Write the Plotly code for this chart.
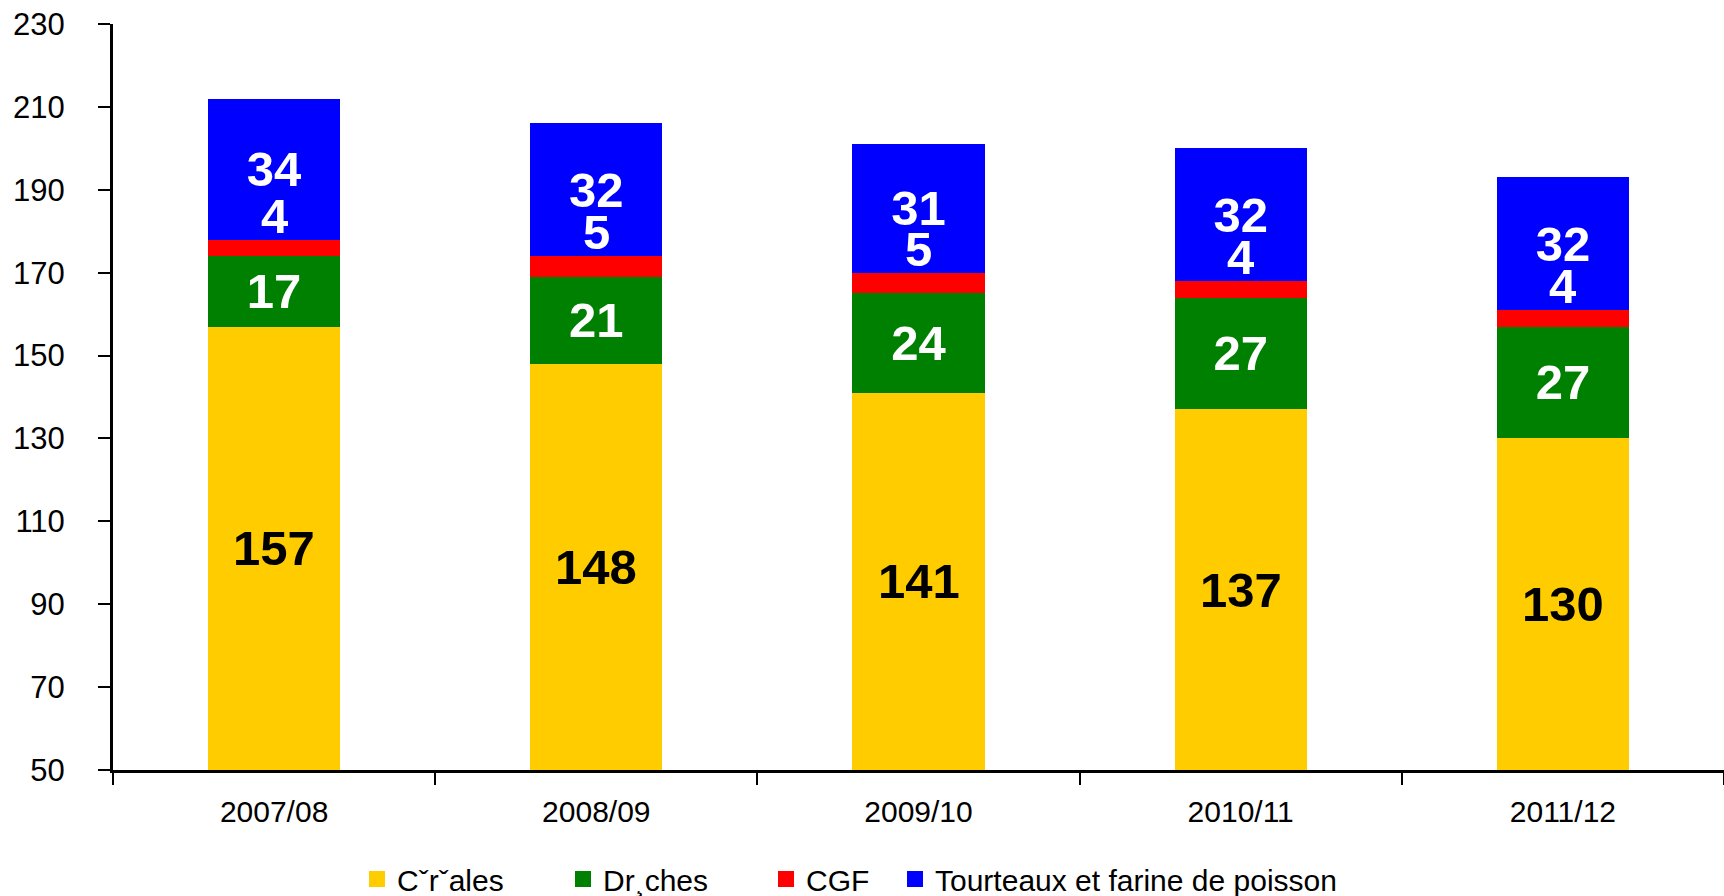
import plotly.graph_objects as go

CAMPAGNES = ["2007/08", "2008/09", "2009/10", "2010/11", "2011/12"]
CEREALES = [157, 148, 141, 137, 130]
DRECHES = [17, 21, 24, 27, 27]
CGF = [4, 5, 5, 4, 4]
TOURTEAUX = [34, 32, 31, 32, 32]

SERIES = [
    ("Cˇrˇales", CEREALES, "#FFCC00"),
    ("Dr¸ches", DRECHES, "#008000"),
    ("CGF", CGF, "#FF0000"),
    ("Tourteaux et farine de poisson", TOURTEAUX, "#0000FF"),
]
# left edge of each legend label, in pixels (Excel spaced them unevenly)
LEGEND_TEXT_X = [402, 608, 811, 940]

FONT = "Arial, Liberation Sans, sans-serif"
Y_MIN, Y_MAX = 50, 230
W, H = 1724, 896
ML, MR, MT, MB = 113, 0, 24, 126
PLOT_W = W - ML - MR
PLOT_H = H - MT - MB
LABEL = dict(family=FONT, size=49, weight="bold")

fig = go.Figure()
for k, (name, vals, color) in enumerate(SERIES):
    with_text = name in ("Dr¸ches", "Tourteaux et farine de poisson")
    fig.add_trace(go.Bar(
        x=CAMPAGNES, y=vals, name=name,
        marker=dict(color=color, line=dict(width=0)),
        text=[str(v) for v in vals] if with_text else None,
        textposition="inside" if with_text else "none",
        insidetextanchor="middle",
        textfont=dict(LABEL, color="white"),
        showlegend=False,
    ))
    lg = "legend" if k == 0 else f"legend{k + 1}"
    fig.add_trace(go.Scatter(
        x=[None], y=[None], mode="markers", name=name, legend=lg,
        marker=dict(symbol="square", size=22, color=color),
    ))
    fig.update_layout({lg: dict(
        x=(LEGEND_TEXT_X[k] - 45 - ML) / PLOT_W, xanchor="left",
        y=-(879 - (H - MB)) / PLOT_H, yanchor="middle",
        font=dict(family=FONT, size=30, color="black"),
        itemsizing="trace", bgcolor="rgba(0,0,0,0)",
    )})

for i, cat in enumerate(CAMPAGNES):
    # céréales label centred on the visible part of the bar
    fig.add_annotation(
        x=cat, y=(Y_MIN + CEREALES[i]) / 2, text=str(CEREALES[i]), showarrow=False,
        font=dict(LABEL, color="black"),
    )
    # CGF label sits just above the thin red segment
    top = CEREALES[i] + DRECHES[i] + CGF[i]
    fig.add_annotation(
        x=cat, y=top, text=str(CGF[i]), showarrow=False, yanchor="bottom", yshift=-5,
        font=dict(LABEL, color="white"),
    )

fig.update_layout(
    barmode="stack",
    bargap=0.59,
    width=W, height=H,
    margin=dict(l=ML, r=MR, t=MT, b=MB, autoexpand=False),
    paper_bgcolor="white",
    plot_bgcolor="white",
    font=dict(family=FONT, color="black", size=30),
    xaxis=dict(
        automargin=False,
        showline=True, linecolor="black", linewidth=3,
        ticks="outside", tickson="boundaries", ticklen=12, tickwidth=2, tickcolor="black",
        ticklabelstandoff=13,
        tickfont=dict(family=FONT, size=30, color="black"),
        showgrid=False, zeroline=False,
    ),
    yaxis=dict(
        automargin=False,
        range=[Y_MIN, Y_MAX], tick0=Y_MIN, dtick=20,
        showline=True, linecolor="black", linewidth=3,
        ticks="outside", ticklen=12, tickwidth=2, tickcolor="black",
        ticklabelstandoff=27,
        tickfont=dict(family=FONT, size=31, color="black"),
        showgrid=False, zeroline=False,
    ),
)

# drop the default 8px body margin so the figure fills the window exactly
fig.write_html(
    "out.html",
    config={"displayModeBar": False},
    post_script="document.body.style.margin='0';",
)
